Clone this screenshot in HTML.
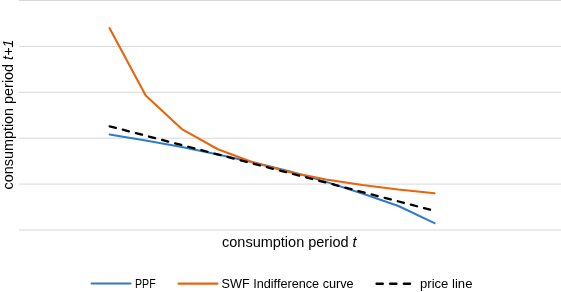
<!DOCTYPE html>
<html><head><meta charset="utf-8"><style>
html,body{margin:0;padding:0;background:#fff;width:561px;height:292px;overflow:hidden}
svg{position:absolute;left:0;top:0;will-change:transform}
text{font-family:"Liberation Sans",sans-serif;fill:#000}
</style></head><body>
<svg width="561" height="292" viewBox="0 0 561 292" xmlns="http://www.w3.org/2000/svg">
<g stroke="#d6d8db" stroke-width="1">
<line x1="19" y1="0.5" x2="561" y2="0.5"/>
<line x1="19" y1="46.4" x2="561" y2="46.4"/>
<line x1="19" y1="92.3" x2="561" y2="92.3"/>
<line x1="19" y1="138.2" x2="561" y2="138.2"/>
<line x1="19" y1="184.1" x2="561" y2="184.1"/>
<line x1="19" y1="230" x2="561" y2="230"/>
</g>
<g fill="none" stroke-width="2.1" stroke-linejoin="round" stroke-linecap="round">
<polyline stroke="#2f7bc8" stroke-width="2.0" points="109.60,134.50 145.70,140.50 181.80,147.00 217.90,154.40 254.00,162.60 290.10,171.40 326.20,181.90 362.30,193.50 398.40,206.00 434.50,223.20"/>
<polyline stroke="#e8650c" points="109.60,28.20 145.70,95.43 181.80,129.05 217.90,149.22 254.00,162.67 290.10,172.27 326.20,179.48 362.30,185.08 398.40,189.56 434.50,193.23"/>
<line stroke="#000" x1="109.6" y1="126.3" x2="434.5" y2="210.8" stroke-width="2.3" stroke-dasharray="6.3 7.23" stroke-dashoffset="-0.1" stroke-linecap="round"/>
</g>
<text x="222" y="247.4" font-size="14.5">consumption period <tspan font-style="italic">t</tspan></text>
<text transform="translate(13,189.5) rotate(-90)" font-size="14.4">consumption period <tspan font-style="italic">t+1</tspan></text>
<g fill="none" stroke-width="2.1" stroke-linecap="round">
<line stroke="#2f7bc8" x1="91.6" y1="283.5" x2="130.5" y2="283.5"/>
<line stroke="#e8650c" x1="178.5" y1="283.6" x2="217.5" y2="283.6"/>
<line stroke="#000" x1="376.6" y1="283.8" x2="410.2" y2="283.8" stroke-width="2.4" stroke-dasharray="6.2 7.4" stroke-linecap="round"/>
</g>
<text transform="translate(135,287.6) scale(0.85,1)" font-size="12.5">PPF</text>
<text transform="translate(221.5,287.6) scale(1.015,1)" font-size="12.5">SWF Indifference curve</text>
<text transform="translate(420,287.6) scale(1.05,1)" font-size="12.5">price line</text>
</svg>
</body></html>
